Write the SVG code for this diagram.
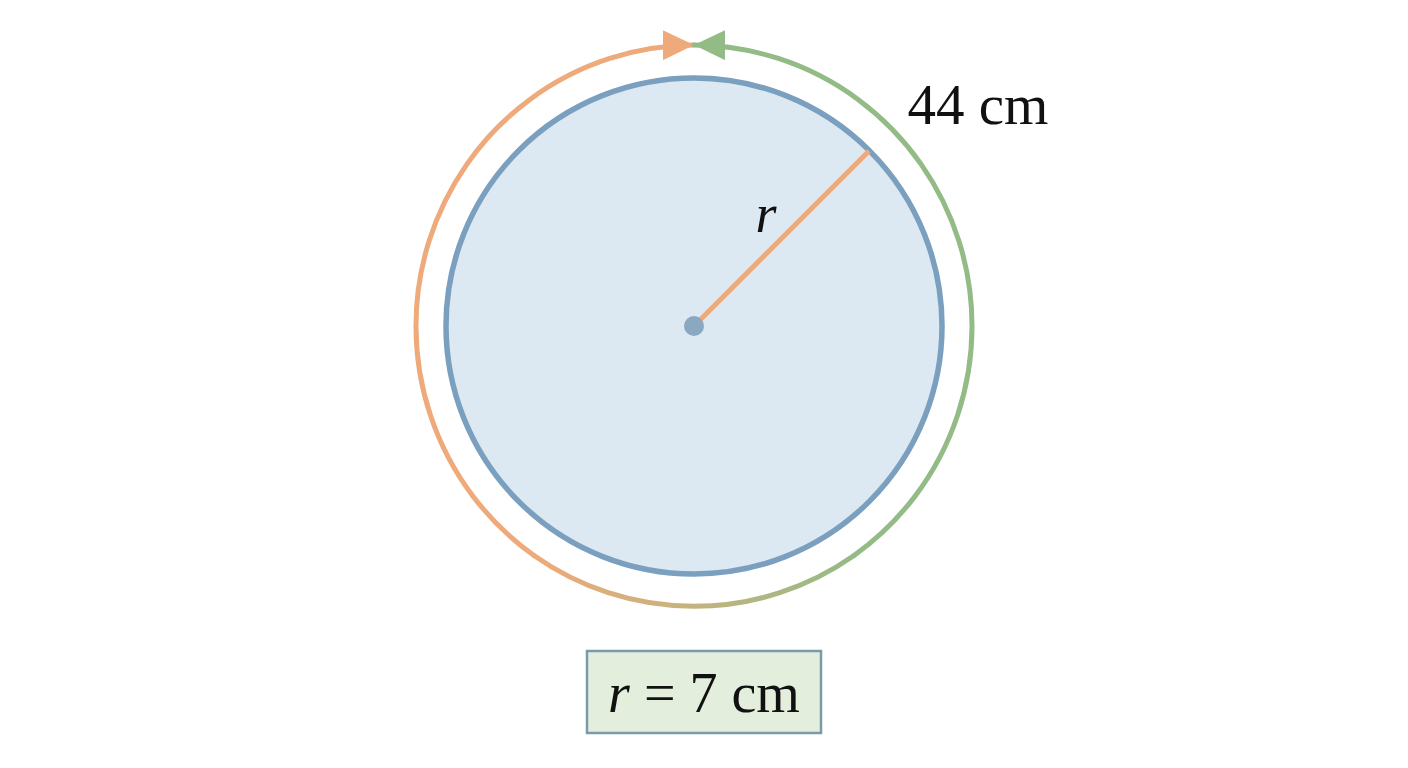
<svg xmlns="http://www.w3.org/2000/svg" width="1408" height="768" viewBox="0 0 1408 768">
<style>
.serif{font-family:"Liberation Serif","Times New Roman",serif;fill:#111;}
.arc{fill:none;stroke-width:5;stroke-linecap:round;}
</style>
<defs>
<linearGradient id="blend" gradientUnits="userSpaceOnUse" x1="534" y1="0" x2="854" y2="0">
<stop offset="0" stop-color="#eeaa7a"/>
<stop offset="0.45" stop-color="#c9b27e"/>
<stop offset="1" stop-color="#93bb86"/>
</linearGradient>
<marker id="arrO" markerUnits="userSpaceOnUse" markerWidth="32" markerHeight="30" refX="31" refY="15" orient="auto">
<path d="M0,0 L31,15 L0,30 Z" fill="#eeaa7a"/>
</marker>
<marker id="arrG" markerUnits="userSpaceOnUse" markerWidth="32" markerHeight="30" refX="31" refY="15" orient="auto">
<path d="M0,0 L31,15 L0,30 Z" fill="#93bb86"/>
</marker>
</defs>
<rect width="1408" height="768" fill="#ffffff"/>
<g id="circle">
<circle cx="694" cy="326" r="248" fill="#dce8f2" stroke="#7a9fbf" stroke-width="5.5"/>
</g>
<g id="connectors">
<path class="arc" d="M 534 555.5 A 279 281 0 0 1 694 45" stroke="#eeaa7a" marker-end="url(#arrO)"/>
<path class="arc" d="M 854 555.5 A 279 281 0 0 0 694 45" stroke="#93bb86" marker-end="url(#arrG)"/>
<path class="arc" d="M 534 555.5 A 279 281 0 0 0 854 555.5" stroke="url(#blend)"/>
<line x1="694" y1="326" x2="869" y2="151" stroke="#eeaa7a" stroke-width="5"/>
</g>
<g id="center">
<circle cx="694" cy="326" r="10" fill="#8aa8c0"/>
</g>
<g id="label-r">
<text class="serif" x="766" y="232" font-size="54" font-style="italic" text-anchor="middle">r</text>
</g>
<g id="label-circ">
<text class="serif" x="978" y="124" font-size="57" text-anchor="middle">44 cm</text>
</g>
<g id="box">
<rect x="587" y="651" width="234" height="82" fill="#e3eedc" stroke="#7a9aaa" stroke-width="2.5"/>
<text class="serif" x="704" y="712" font-size="56" text-anchor="middle"><tspan font-style="italic">r</tspan> = 7 cm</text>
</g>
</svg>
